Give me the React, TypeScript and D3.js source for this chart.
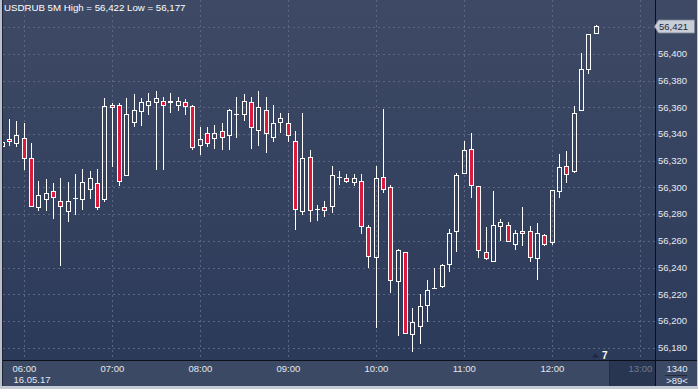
import React from "react";
import * as d3 from "d3";

const title = "USDRUB 5M High = 56,422 Low = 56,177";
const opens = [56.331,56.336,56.333,56.337,56.322,56.285,56.291,56.297,56.290,56.282,56.292,56.291,56.299,56.303,56.291,56.362,56.362,56.309,56.349,56.357,56.362,56.364,56.365,56.365,56.362,56.364,56.361,56.332,56.341,56.337,56.342,56.339,56.355,56.355,56.364,56.343,56.358,56.338,56.349,56.348,56.335,56.282,56.323,56.284,56.285,56.286,56.308,56.307,56.304,56.305,56.270,56.248,56.308,56.300,56.230,56.252,56.190,56.196,56.212,56.225,56.226,56.243,56.267,56.311,56.329,56.301,56.252,56.245,56.271,56.272,56.258,56.267,56.267,56.247,56.264,56.259,56.297,56.316,56.312,56.358,56.389,56.416];
const highs = [56.335,56.351,56.350,56.348,56.333,56.305,56.306,56.303,56.307,56.304,56.310,56.314,56.312,56.314,56.367,56.363,56.363,56.367,56.370,56.367,56.371,56.372,56.368,56.371,56.368,56.366,56.362,56.345,56.345,56.347,56.348,56.359,56.368,56.370,56.368,56.372,56.368,56.362,56.356,56.356,56.342,56.356,56.328,56.287,56.290,56.316,56.312,56.310,56.310,56.310,56.272,56.316,56.359,56.302,56.254,56.252,56.210,56.220,56.231,56.240,56.243,56.269,56.311,56.335,56.341,56.301,56.270,56.297,56.276,56.274,56.268,56.285,56.271,56.273,56.265,56.298,56.325,56.327,56.361,56.401,56.415,56.422];
const lows = [56.330,56.331,56.330,56.313,56.286,56.282,56.282,56.276,56.241,56.274,56.279,56.283,56.291,56.283,56.289,56.315,56.301,56.309,56.345,56.346,56.354,56.313,56.313,56.356,56.357,56.354,56.328,56.324,56.330,56.329,56.328,56.328,56.337,56.350,56.329,56.331,56.326,56.334,56.341,56.334,56.268,56.279,56.274,56.275,56.278,56.281,56.302,56.303,56.301,56.265,56.240,56.195,56.296,56.221,56.189,56.191,56.177,56.183,56.199,56.224,56.225,56.237,56.252,56.310,56.292,56.247,56.246,56.245,56.260,56.259,56.253,56.256,56.244,56.231,56.256,56.257,56.292,56.303,56.311,56.358,56.385,56.415];
const closes = [56.334,56.335,56.339,56.322,56.286,56.294,56.296,56.293,56.286,56.290,56.292,56.304,56.307,56.285,56.361,56.360,56.305,56.355,56.358,56.364,56.365,56.367,56.362,56.364,56.365,56.361,56.330,56.336,56.333,56.341,56.338,56.358,56.355,56.365,56.345,56.360,56.341,56.348,56.352,56.339,56.284,56.322,56.283,56.284,56.283,56.309,56.308,56.305,56.307,56.271,56.249,56.307,56.299,56.231,56.253,56.191,56.199,56.211,56.223,56.225,56.242,56.266,56.309,56.328,56.302,56.253,56.247,56.272,56.274,56.260,56.266,56.266,56.248,56.266,56.258,56.298,56.315,56.310,56.356,56.389,56.415,56.421];

const priceTicks = [56.18, 56.2, 56.22, 56.24, 56.26, 56.28, 56.3, 56.32, 56.34, 56.36, 56.38, 56.4, 56.42];
const hourTicks = [6, 7, 8, 9, 10, 11, 12, 13];
const dateLabel = "16.05.17";
const lastPrice = 56.421;
const markerLabel = "7";
const footerTop = "1340";
const footerBottom = ">89<";

const FONT = "'Liberation Sans', Arial, sans-serif";

export default function App() {
  const W = 698, H = 389;
  const plotL = 3, plotR = 655, plotB = 360;
  const axisB = 386;
  const base = new Date(2017, 4, 16, 6, 0);
  const x = d3.scaleTime().domain([base, d3.timeHour.offset(base, 1)]).range([24.33, 112.33]);
  const y = d3.scaleLinear().domain([56.18, 56.4]).range([347.6, 54]);
  const start = new Date(2017, 4, 16, 5, 45);
  const candles = opens.map((o, i) => ({
    t: d3.timeMinute.offset(start, i * 5), o, h: highs[i], l: lows[i], c: closes[i],
  }));
  const fmt = (v: number) => d3.format(".3f")(v).replace(".", ",");
  const red = "#dc1a3e";
  const ly = Math.round(y(lastPrice)) + 0.5;

  return (
    <svg width={W} height={H} style={{ position: "absolute", left: 0, top: 0, display: "block" }}>
      <defs>
        <linearGradient id="bg" x1="0" y1="0" x2="0" y2="1">
          <stop offset="0" stopColor="#3e4a65" />
          <stop offset="1" stopColor="#2c3a5a" />
        </linearGradient>
        <clipPath id="clip">
          <rect x={plotL} y={0} width={plotR - plotL} height={plotB} />
        </clipPath>
      </defs>
      <rect x={0} y={0} width={W} height={plotB} fill="url(#bg)" />
      {/* time axis background */}
      <rect x={0} y={plotB} width={W} height={axisB - plotB} fill="#3c4964" />
      <rect x={610} y={plotB + 1} width={plotR - 610} height={axisB - plotB - 1} fill="#293651" />
      <line x1={609.5} x2={609.5} y1={plotB + 1} y2={axisB} stroke="#222d44" />
      {/* grid */}
      <g stroke="#5b6782" strokeWidth={1} strokeDasharray="2,3">
        {priceTicks.map((p) => (
          <line key={"h" + p} x1={plotL} x2={plotR} y1={Math.round(y(p)) + 0.5} y2={Math.round(y(p)) + 0.5} />
        ))}
        {hourTicks.map((hh) => {
          const xx = Math.floor(x(new Date(2017, 4, 16, hh, 0))) + 0.5;
          return <line key={"v" + hh} x1={xx} x2={xx} y1={0} y2={plotB} />;
        })}
      </g>
      {/* candles */}
      <g clipPath="url(#clip)">
        {candles.map((d, i) => {
          const cx = Math.floor(x(d.t));
          const yt = Math.round(y(Math.max(d.o, d.c)));
          const yb = Math.round(y(Math.min(d.o, d.c)));
          const yh = Math.round(y(d.h));
          const yl = Math.round(y(d.l));
          const down = d.c < d.o;
          const wx = cx + 0.5;
          return (
            <g key={i}>
              {yh < yt && <line x1={wx} x2={wx} y1={yh} y2={yt} stroke="#fff" />}
              {yl > yb && <line x1={wx} x2={wx} y1={yb} y2={yl} stroke="#fff" />}
              {yb - yt < 1 ? (
                <line x1={cx - 2} x2={cx + 3} y1={yt + 0.5} y2={yt + 0.5} stroke="#fff" />
              ) : (
                <rect x={cx - 1.5} y={yt + 0.5} width={4} height={yb - yt} fill={down ? red : "none"} stroke="#fff" strokeWidth={1} />
              )}
            </g>
          );
        })}
      </g>
      {/* marker */}
      <path d="M592,357.5 L595.5,353.5 L599,357.5 Z" fill="#1c2740" />
      <text x={602} y={358.5} fill="#ffffff" fontFamily={FONT} fontSize={10} fontWeight="bold">{markerLabel}</text>
      {/* title */}
      <text x={4} y={11} fill="#ffffff" fontFamily={FONT} fontSize={9.7}>{title}</text>
      {/* axes lines */}
      <line x1={plotL} x2={W} y1={plotB + 0.5} y2={plotB + 0.5} stroke="#0b0f18" />
      <line x1={plotR + 0.5} x2={plotR + 0.5} y1={0} y2={axisB} stroke="#0b0f18" />
      {/* price labels */}
      {priceTicks.filter((p) => p < 56.41).map((p) => (
        <text key={"t" + p} x={658} y={y(p)} dy="0.35em" fill="#e6ebf3" fontFamily={FONT} fontSize={9.5}>{fmt(p)}</text>
      ))}
      {/* last price */}
      <path d={`M654.5,${ly} L658.5,${ly - 6.5} L694.5,${ly - 6.5} L694.5,${ly + 6.5} L658.5,${ly + 6.5} Z`} fill="#c8cdd6" stroke="#7f8899" strokeWidth={0.8} />
      <text x={659} y={ly} dy="0.35em" fill="#1d2840" fontFamily={FONT} fontSize={9.5}>{fmt(lastPrice)}</text>
      {/* time labels */}
      {hourTicks.map((hh) => {
        const xx = x(new Date(2017, 4, 16, hh, 0));
        return (
          <text key={"x" + hh} x={xx} y={371.5} textAnchor="middle" fill={hh === 13 ? "#6f7b92" : "#e2e7ef"} fontFamily={FONT} fontSize={9.5}>
            {d3.timeFormat("%H:%M")(new Date(2017, 4, 16, hh, 0))}
          </text>
        );
      })}
      <text x={13.5} y={383} fill="#e2e7ef" fontFamily={FONT} fontSize={9.5}>{dateLabel}</text>
      {/* footer box */}
      <text x={677} y={371.5} textAnchor="middle" fill="#e6ebf3" fontFamily={FONT} fontSize={9.5}>{footerTop}</text>
      <line x1={665} x2={687} y1={375.5} y2={375.5} stroke="#222b3d" />
      <text x={677} y={384} textAnchor="middle" fill="#e6ebf3" fontFamily={FONT} fontSize={9.5}>{footerBottom}</text>
      {/* borders */}
      <rect x={0} y={0} width={2} height={H} fill="#b9c0cb" />
      <rect x={2} y={0} width={1} height={axisB} fill="#1e2638" />
      <rect x={0} y={axisB} width={W} height={H - axisB} fill="#c5cbd5" />
      <rect x={W - 1} y={0} width={1} height={H} fill="#c5cbd5" />
    </svg>
  );
}
